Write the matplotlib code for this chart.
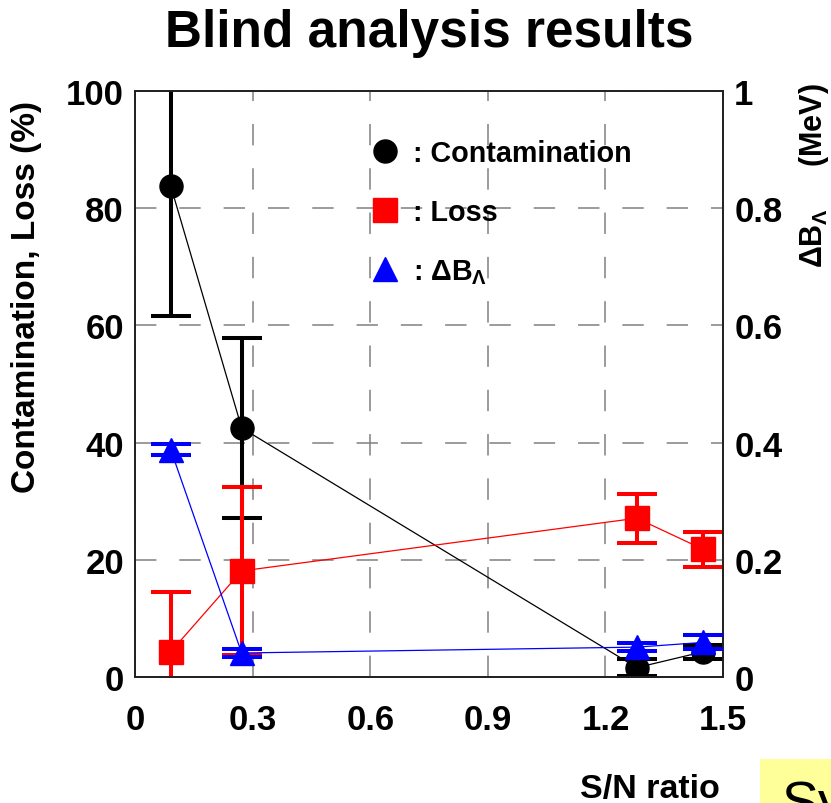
import numpy as np
import matplotlib
matplotlib.use("Agg")
import matplotlib.pyplot as plt
from matplotlib.lines import Line2D
from matplotlib.patches import Rectangle

plt.rcParams['font.family'] = ['Liberation Sans', 'DejaVu Sans']
plt.rcParams['font.weight'] = 'bold'
plt.rcParams['mathtext.fontset'] = 'custom'
plt.rcParams['mathtext.rm'] = 'Liberation Sans:bold'
plt.rcParams['mathtext.it'] = 'Liberation Sans:bold'
plt.rcParams['mathtext.bf'] = 'Liberation Sans:bold'

# S/N ratio of the four samples
sn = [0.091, 0.272, 1.28, 1.449]
# contamination (%)
contam = [83.8, 42.5, 1.6, 4.3]
contam_err = [22.2, 15.4, 1.4, 1.2]
# loss (%)
loss = [4.3, 18.1, 27.1, 21.8]
loss_err = [10.2, 14.4, 4.2, 3.0]
# Delta B_Lambda (MeV)
dbl = [0.388, 0.041, 0.051, 0.059]
dbl_err = [0.010, 0.007, 0.007, 0.012]

xticks = [0, 0.3, 0.6, 0.9, 1.2, 1.5]
xticklabels = ["0", "0.3", "0.6", "0.9", "1.2", "1.5"]
yticks = [0, 20, 40, 60, 80, 100]
y2ticks = [0, 0.2, 0.4, 0.6, 0.8, 1]
y2ticklabels = ["0", "0.2", "0.4", "0.6", "0.8", "1"]

fig = plt.figure(figsize=(8.31, 8.04), dpi=100)
ax = fig.add_axes([0.1625, 0.1567, 0.7076, 0.7289])
ax2 = ax.twinx()

ebkw = dict(elinewidth=2.9, capsize=14.4, capthick=2.9, markersize=16.6, lw=0.9)
ax.errorbar(sn, contam, yerr=contam_err, fmt='-o', color='black', zorder=3, **ebkw)
ax.errorbar(sn, loss, yerr=loss_err, fmt='-s', color='red', zorder=4, **ebkw)
ax2.errorbar(sn, dbl, yerr=dbl_err, fmt='-^', color='blue', zorder=5, **ebkw)

ax.set_xlim(0, 1.5)
ax.set_ylim(0, 100)
ax2.set_ylim(0, 1)
ax.set_xticks(xticks)
ax.set_xticklabels(xticklabels)
ax.set_yticks(yticks)
ax2.set_yticks(y2ticks)
ax2.set_yticklabels(y2ticklabels)
ax.tick_params(axis='both', length=0, labelsize=25, pad=8)
ax.tick_params(axis='x', pad=19)
ax2.tick_params(axis='y', length=0, labelsize=25, pad=8)

ax.grid(True, color='#808080', linestyle=(0, (14, 15)), linewidth=1.1)
for s in list(ax.spines.values()) + list(ax2.spines.values()):
    s.set_linewidth(1.3)
    s.set_color('#222222')

fig.text(429 / 831, 1 - 33 / 804, "Blind analysis results", fontsize=37,
         fontweight='bold', ha='center', va='center')
ax.set_ylabel("Contamination, Loss (%)", fontsize=24, fontweight='bold')
ax.yaxis.set_label_coords(-0.158, 0.65)
ax2.set_ylabel(r"$\Delta B_{\Lambda}$     (MeV)", fontsize=22, fontweight='bold', rotation=90)
ax2.yaxis.set_label_coords(1.126, 0.858)
ax.set_xlabel("S/N ratio", fontsize=24.5, fontweight='bold', ha='right')
ax.xaxis.set_label_coords(0.995, -0.164)

handles = [
    Line2D([], [], ls='none', marker='o', color='black', markersize=16.6),
    Line2D([], [], ls='none', marker='s', color='red', markersize=16.6),
    Line2D([], [], ls='none', marker='^', color='blue', markersize=16.6),
]
labels = [": Contamination", ": Loss", r": $\Delta B_{\Lambda}$"]
ax2.legend(handles, labels, loc='upper left', bbox_to_anchor=(0.401, 0.918),
           frameon=False, handlelength=1.0, handletextpad=0.45,
           labelspacing=1.08, borderpad=0, borderaxespad=0, prop={'weight': 'bold', 'size': 20.7})

# yellow box cut off at the lower right corner
box = Rectangle((760 / 831, 0), 1 - 760 / 831, 44 / 804, transform=fig.transFigure,
                facecolor='#ffff99', edgecolor='none')
fig.patches.append(box)
t = fig.text(782 / 831, 1 - 780 / 804, "Sy", fontsize=40, fontweight='normal',
             color='black', ha='left', va='top')
t.set_clip_path(box)

fig.savefig("out.png", dpi=100)
